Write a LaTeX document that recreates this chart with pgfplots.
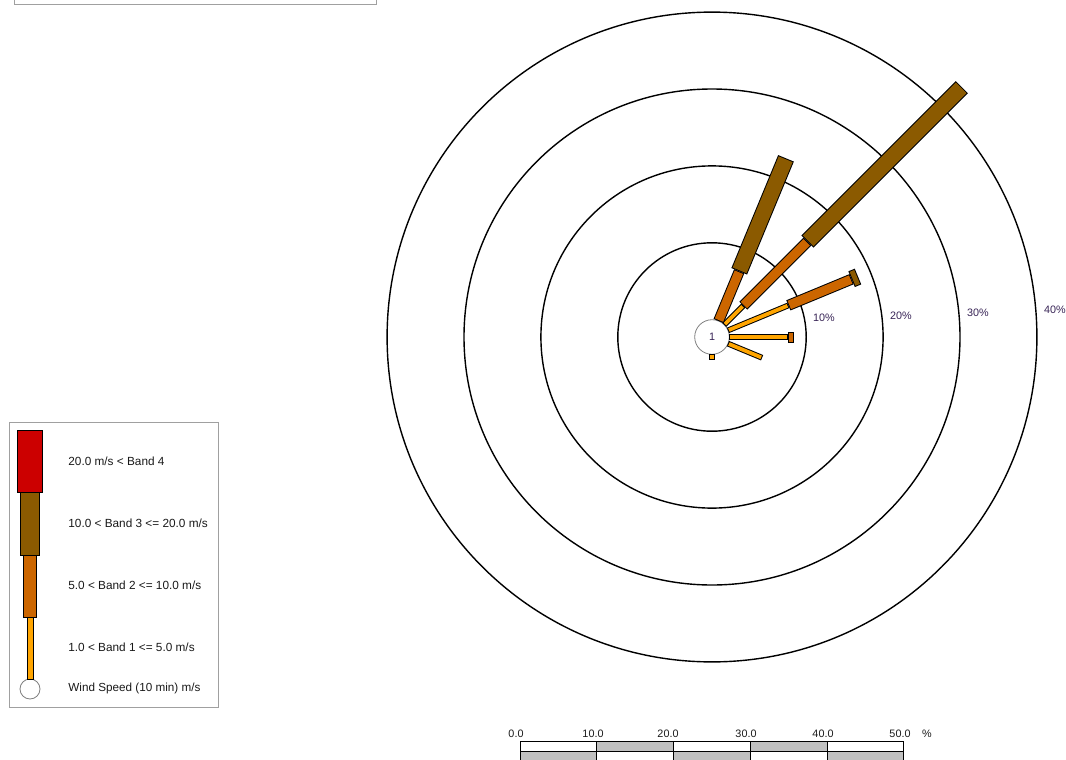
\documentclass[border=0pt]{standalone}
\usepackage{pgfplots}
\pgfplotsset{compat=1.18}
\usepackage{pgfplotstable}
\usepackage{fontspec}
\setmainfont{Liberation Sans}

\definecolor{bandA}{RGB}{255,165,0}
\definecolor{bandB}{RGB}{204,102,0}
\definecolor{bandC}{RGB}{139,90,0}
\definecolor{bandD}{RGB}{204,0,0}
\definecolor{lbl}{RGB}{55,35,85}
\definecolor{txt}{RGB}{25,25,25}
\definecolor{framegray}{RGB}{160,160,160}
\definecolor{scalegray}{RGB}{192,192,192}

% direction (deg, compass) ; cumulative percent start / end of each band
\pgfplotstableread{
dir p0 p1
45 0 3.5
67.5 0 8.5
90 0 7.6
112.5 0 4.8
180 0 0.8
}\bandone
\pgfplotstableread{
dir p0 p1
22.5 0 7.0
45 3.5 15.3
67.5 8.5 17.4
90 7.6 8.4
}\bandtwo
\pgfplotstableread{
dir p0 p1
22.5 7.0 22.9
45 15.3 43.7
67.5 17.4 18.3
}\bandthree

\pgfplotsset{
  rosebar/.style={
    quiver={
      u={7.69*(\thisrow{p1}-\thisrow{p0})*sin(\thisrow{dir})},
      v={-7.69*(\thisrow{p1}-\thisrow{p0})*cos(\thisrow{dir})}},
  },
  /pgfplots/table/rosex/.style={x expr={712+(17.3+7.69*\thisrow{p0})*sin(\thisrow{dir})},
                y expr={337-(17.3+7.69*\thisrow{p0})*cos(\thisrow{dir})}},
}

\begin{document}
\begin{tikzpicture}
\begin{axis}[name=ax,
  scale only axis, width=533pt, height=380pt,
  xmin=0, xmax=1066, ymin=0, ymax=760, y dir=reverse,
  hide axis, clip=false]

% rings
\draw[black, line width=0.7pt] (axis cs:712,337) circle[radius=47.1pt];
\draw[black, line width=0.7pt] (axis cs:712,337) circle[radius=85.55pt];
\draw[black, line width=0.7pt] (axis cs:712,337) circle[radius=124pt];
\draw[black, line width=0.7pt] (axis cs:712,337) circle[radius=162.45pt];
% calm circle
\draw[fill=white, draw=gray, line width=0.4pt] (axis cs:712,337) circle[radius=8.65pt];
\node[font=\fontsize{5.4}{6}\selectfont, text=lbl] at (axis cs:712,337) {1};

% bars: band 1
\addplot[rosebar, draw=black, line width=2.9pt] table[rosex] {\bandone};
\addplot[rosebar, draw=bandA, line width=1.9pt, shorten <=0.5pt, shorten >=0.5pt] table[rosex] {\bandone};
% band 2
\addplot[rosebar, draw=black, line width=5.5pt] table[rosex] {\bandtwo};
\addplot[rosebar, draw=bandB, line width=4.5pt, shorten <=0.5pt, shorten >=0.5pt] table[rosex] {\bandtwo};
% band 3
\addplot[rosebar, draw=black, line width=8.5pt] table[rosex] {\bandthree};
\addplot[rosebar, draw=bandC, line width=7.5pt, shorten <=0.5pt, shorten >=0.5pt] table[rosex] {\bandthree};

% ring labels
\node[font=\fontsize{5.4}{6}\selectfont, text=lbl] at (axis cs:824,318) {10\%};
\node[font=\fontsize{5.4}{6}\selectfont, text=lbl] at (axis cs:901,315.5) {20\%};
\node[font=\fontsize{5.4}{6}\selectfont, text=lbl] at (axis cs:978,313) {30\%};
\node[font=\fontsize{5.4}{6}\selectfont, text=lbl] at (axis cs:1055,310) {40\%};

% top-left box (only its lower edge visible)
\draw[framegray, line width=0.5pt] (axis cs:14,-2) -- (axis cs:14,4) -- (axis cs:376,4) -- (axis cs:376,-2);

% legend
\draw[framegray, line width=0.5pt] (axis cs:9.5,422) rectangle (axis cs:218.5,707.5);
\draw[fill=white, draw=gray, line width=0.4pt] (axis cs:30,689) circle[radius=5pt];
\draw[fill=bandA, draw=black, line width=0.5pt] (axis cs:27.5,617) rectangle (axis cs:33.3,679.5);
\draw[fill=bandB, draw=black, line width=0.5pt] (axis cs:23.5,555) rectangle (axis cs:36,617);
\draw[fill=bandC, draw=black, line width=0.5pt] (axis cs:20.7,492.5) rectangle (axis cs:39.7,555);
\draw[fill=bandD, draw=black, line width=0.5pt] (axis cs:17.3,430) rectangle (axis cs:42.3,492.5);
\node[anchor=west, inner sep=0pt, font=\fontsize{5.9}{7}\selectfont, text=txt] at (axis cs:68,461) {20.0 m/s < Band 4};
\node[anchor=west, inner sep=0pt, font=\fontsize{5.9}{7}\selectfont, text=txt] at (axis cs:68,523) {10.0 < Band 3 <= 20.0 m/s};
\node[anchor=west, inner sep=0pt, font=\fontsize{5.9}{7}\selectfont, text=txt] at (axis cs:68,585) {5.0 < Band 2 <= 10.0 m/s};
\node[anchor=west, inner sep=0pt, font=\fontsize{5.9}{7}\selectfont, text=txt] at (axis cs:68,647) {1.0 < Band 1 <= 5.0 m/s};
\node[anchor=west, inner sep=0pt, font=\fontsize{5.85}{7}\selectfont, text=txt] at (axis cs:68,688) {Wind Speed (10 min) m/s};

% scale bar
\draw[fill=white, draw=black, line width=0.5pt] (axis cs:520,741.3) rectangle (axis cs:596.7,751.3);
\draw[fill=scalegray, draw=black, line width=0.5pt] (axis cs:596.7,741.3) rectangle (axis cs:673.3,751.3);
\draw[fill=white, draw=black, line width=0.5pt] (axis cs:673.3,741.3) rectangle (axis cs:750,751.3);
\draw[fill=scalegray, draw=black, line width=0.5pt] (axis cs:750,741.3) rectangle (axis cs:827.3,751.3);
\draw[fill=white, draw=black, line width=0.5pt] (axis cs:827.3,741.3) rectangle (axis cs:903.3,751.3);
\draw[fill=scalegray, draw=black, line width=0.5pt] (axis cs:520,751.3) rectangle (axis cs:596.7,766);
\draw[fill=white, draw=black, line width=0.5pt] (axis cs:596.7,751.3) rectangle (axis cs:673.3,766);
\draw[fill=scalegray, draw=black, line width=0.5pt] (axis cs:673.3,751.3) rectangle (axis cs:750,766);
\draw[fill=white, draw=black, line width=0.5pt] (axis cs:750,751.3) rectangle (axis cs:827.3,766);
\draw[fill=scalegray, draw=black, line width=0.5pt] (axis cs:827.3,751.3) rectangle (axis cs:903.3,766);
\node[font=\fontsize{5.4}{6}\selectfont, text=txt] at (axis cs:516,733.5) {0.0};
\node[font=\fontsize{5.4}{6}\selectfont, text=txt] at (axis cs:593,733.5) {10.0};
\node[font=\fontsize{5.4}{6}\selectfont, text=txt] at (axis cs:668,733.5) {20.0};
\node[font=\fontsize{5.4}{6}\selectfont, text=txt] at (axis cs:746,733.5) {30.0};
\node[font=\fontsize{5.4}{6}\selectfont, text=txt] at (axis cs:823,733.5) {40.0};
\node[font=\fontsize{5.4}{6}\selectfont, text=txt] at (axis cs:900,733.5) {50.0};
\node[font=\fontsize{5.4}{6}\selectfont, text=txt] at (axis cs:927,733.5) {\%};
\end{axis}
\pgfresetboundingbox
\path (ax.south west) rectangle (ax.north east);
\end{tikzpicture}
\end{document}
